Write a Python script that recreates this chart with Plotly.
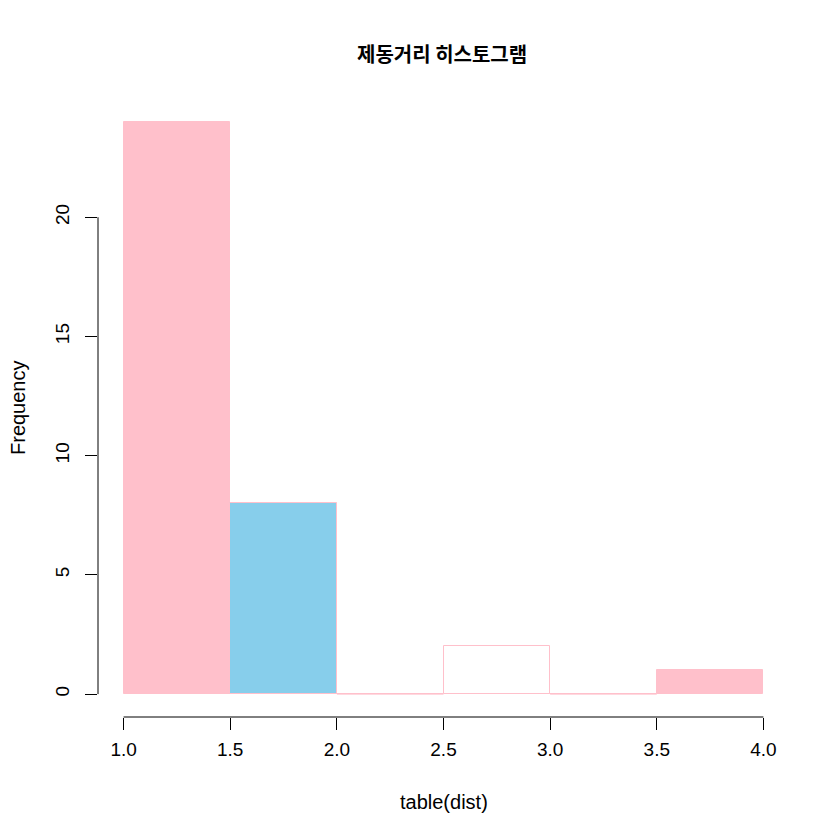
import plotly.graph_objects as go

bin_edges = [1.0, 1.5, 2.0, 2.5, 3.0, 3.5, 4.0]
counts = [24, 8, 0, 2, 0, 1]
fill_colors = ["pink", "skyblue", "white", "white", "white", "pink"]
border_color = "pink"
x_ticks = [1.0, 1.5, 2.0, 2.5, 3.0, 3.5, 4.0]
y_ticks = [0, 5, 10, 15, 20]
title = "제동거리 히스토그램"
x_title = "table(dist)"
y_title = "Frequency"

mids = [(a + b) / 2 for a, b in zip(bin_edges[:-1], bin_edges[1:])]
widths = [b - a for a, b in zip(bin_edges[:-1], bin_edges[1:])]

fig = go.Figure()
fig.add_trace(go.Bar(
    x=mids, y=counts, width=widths,
    marker=dict(color=fill_colors, line=dict(color=border_color, width=1)),
    showlegend=False, hoverinfo="x+y",
))
# zero-height bins drawn as border line (as in R)
for i, c in enumerate(counts):
    if c == 0:
        fig.add_trace(go.Scatter(
            x=[bin_edges[i], bin_edges[i + 1]], y=[c, c], mode="lines",
            line=dict(color=border_color, width=1), showlegend=False, hoverinfo="skip",
        ))

xmin, xmax = bin_edges[0], bin_edges[-1]
ymax = max(counts)
xpad = (xmax - xmin) * 0.04
ypad = ymax * 0.04

font = "Liberation Sans, Arial, sans-serif"
W, H = 840, 840
L, R, T, B = 90, 59, 91, 131
pw = W - L - R
ph = H - T - B
OFF = 8  # page body margin


def px_x(page_x):
    return (page_x - OFF - L) / pw


def px_y(page_y):
    return (H - B - (page_y - OFF)) / ph


fig.update_layout(
    width=W, height=H,
    margin=dict(l=L, r=R, t=T, b=B, autoexpand=False),
    plot_bgcolor="white", paper_bgcolor="white",
    bargap=0,
    font=dict(family=font, size=19, color="black"),
    xaxis=dict(range=[xmin - xpad, xmax + xpad], tickvals=x_ticks, ticktext=[f"{v:.1f}" for v in x_ticks],
               showgrid=False, zeroline=False, showline=False, ticks="outside", ticklen=12,
               tickcolor="black", tickwidth=1, ticklabelstandoff=3, automargin=False,
               tickfont=dict(size=19)),
    yaxis=dict(range=[-ypad, ymax + ypad], tickvals=y_ticks, showgrid=False, zeroline=False,
               showline=False, ticks="outside", ticklen=12, tickcolor="black", tickwidth=1,
               tickangle=-90, ticklabelstandoff=8, automargin=False, tickfont=dict(size=19)),
)
fig.add_annotation(text="<b>" + title + "</b>", xref="paper", yref="paper",
                   x=px_x(442), y=px_y(53), xanchor="center", yanchor="middle", showarrow=False,
                   font=dict(family="Noto Sans CJK KR, sans-serif", size=20, color="black"))
fig.add_annotation(text=x_title, xref="paper", yref="paper", x=0.5, y=px_y(802),
                   xanchor="center", yanchor="middle", showarrow=False, font=dict(size=20))
fig.add_annotation(text=y_title, xref="paper", yref="paper", x=px_x(18), y=0.5,
                   xanchor="center", yanchor="middle", textangle=-90, showarrow=False, font=dict(size=20))
# axis lines spanning only the tick range (R style)
fig.add_shape(type="line", xref="x", yref="paper", x0=x_ticks[0], x1=x_ticks[-1], y0=0, y1=0,
              line=dict(color="black", width=1))
fig.add_shape(type="line", xref="paper", yref="y", x0=0, x1=0, y0=y_ticks[0], y1=y_ticks[-1],
              line=dict(color="black", width=1))

fig.write_html("out.html")
